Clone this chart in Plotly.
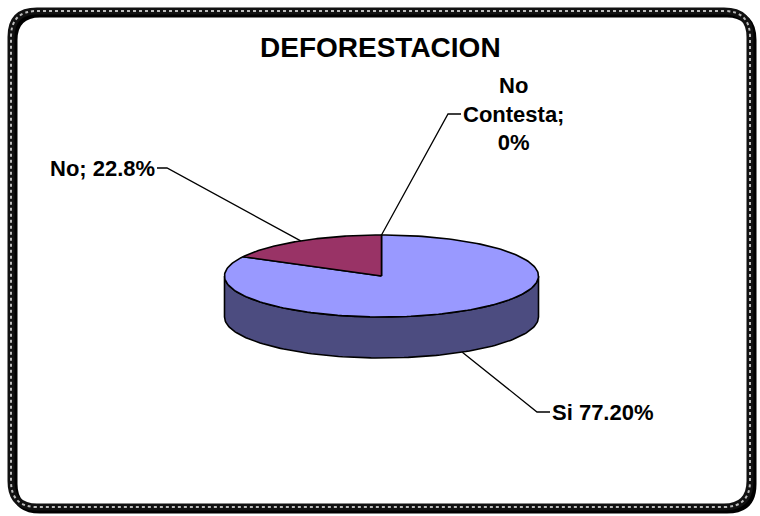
import numpy as np
import plotly.graph_objects as go

# ---- data ----
categories = ["Si", "No", "No Contesta"]
values = [77.2, 22.8, 0.0]
label_texts = ["Si 77.20%", "No; 22.8%", "No<br>Contesta;<br>0%"]
title_text = "DEFORESTACION"

# ---- style / layout constants (pixel space) ----
W, H = 760, 516
CX, CY, RX, RY, DEPTH = 381.5, 276.0, 157.0, 41.0, 41.0
top_colors = ["#9999FF", "#993366", "#FFFFCC"]
side_colors = ["#4C4C80", "#4D1A33", "#80806A"]
label_pos = [  # (elbow_x, elbow_y, text_x, text_y, xanchor)
    (537, 412, 550, 412, "left"),
    (167, 168, 157, 168, "right"),
    (448, 114, 461, 114, "left"),
]
FONT = "Liberation Sans, Arial, sans-serif"

def screen_to_param(psi_deg):
    p = np.radians(psi_deg)
    t = np.degrees(np.arctan2(RY * np.sin(p), RX * np.cos(p)))
    return t % 360

def top_pt(t):
    r = np.radians(t)
    return CX + RX * np.sin(r), CY - RY * np.cos(r)

total = sum(values)
cum = np.concatenate([[0], np.cumsum(values)]) / total * 360
bounds = []
for i in range(len(values)):
    t0 = screen_to_param(cum[i]) if cum[i] < 360 else 360.0
    t1 = screen_to_param(cum[i + 1]) if cum[i + 1] < 360 else 360.0
    if t1 < t0:
        t1 += 360
    bounds.append((t0, t1))

fig = go.Figure()

# sides (front visible part: 90..270)
for i, (t0, t1) in enumerate(bounds):
    if values[i] <= 0:
        continue
    a, b = max(t0, 90), min(t1, 270)
    if b <= a:
        continue
    ts = np.linspace(a, b, 120)
    xs, ys = top_pt(ts)
    px = np.concatenate([xs, xs[::-1], xs[:1]])
    py = np.concatenate([ys, ys[::-1] + DEPTH, ys[:1]])
    fig.add_trace(go.Scatter(x=px, y=py, mode="lines", fill="toself",
                             fillcolor=side_colors[i],
                             line=dict(color="black", width=1.6),
                             hoverinfo="skip", showlegend=False))

# top faces
for i, (t0, t1) in enumerate(bounds):
    if values[i] <= 0:
        continue
    ts = np.linspace(t0, t1, 200)
    xs, ys = top_pt(ts)
    px = np.concatenate([[CX], xs, [CX]])
    py = np.concatenate([[CY], ys, [CY]])
    fig.add_trace(go.Scatter(x=px, y=py, mode="lines", fill="toself",
                             fillcolor=top_colors[i],
                             line=dict(color="black", width=1.6),
                             hoverinfo="skip", showlegend=False,
                             name=categories[i]))

# leader lines and labels
for i, (t0, t1) in enumerate(bounds):
    tm = (t0 + t1) / 2
    ax, ay = top_pt(tm)
    if 90 <= (tm % 360) <= 270:
        ay = ay + DEPTH
    ex, ey, tx, ty, anc = label_pos[i]
    fig.add_trace(go.Scatter(x=[ax, ex, tx], y=[ay, ey, ty], mode="lines",
                             line=dict(color="black", width=1.3),
                             hoverinfo="skip", showlegend=False))
    fig.add_annotation(x=tx, y=ty, text=label_texts[i], showarrow=False,
                       xanchor=anc, yanchor="middle",
                       align="center",
                       font=dict(family=FONT, size=22, color="black", weight="bold"))

fig.add_annotation(x=380, y=47, text=title_text, showarrow=False,
                   xanchor="center", yanchor="middle",
                   font=dict(family=FONT, size=28, color="black", weight="bold"))

# frame
def rounded(x0, y0, x1, y1, r):
    return (f"M{x0+r},{y0} L{x1-r},{y0} Q{x1},{y0} {x1},{y0+r} "
            f"L{x1},{y1-r} Q{x1},{y1} {x1-r},{y1} L{x0+r},{y1} "
            f"Q{x0},{y1} {x0},{y1-r} L{x0},{y0+r} Q{x0},{y0} {x0+r},{y0} Z")

shadow = rounded(14, 14, 753, 510, 26)
frame = rounded(11, 11, 750, 507, 26)
fig.add_shape(type="path", path=shadow, xref="x", yref="y",
              line=dict(color="black", width=7))
fig.add_shape(type="path", path=frame, xref="x", yref="y",
              line=dict(color="#111111", width=7), fillcolor="rgba(0,0,0,0)")
fig.add_shape(type="path", path=frame, xref="x", yref="y",
              line=dict(color="#bbbbbb", width=2, dash="dot"))
fig.add_shape(type="path", path=rounded(15, 15, 746, 503, 22), xref="x", yref="y",
              line=dict(color="white", width=1), fillcolor="white", layer="below")

fig.update_layout(
    width=W, height=H,
    margin=dict(l=0, r=0, t=0, b=0),
    paper_bgcolor="white", plot_bgcolor="white",
    xaxis=dict(range=[0, W], visible=False, fixedrange=True),
    yaxis=dict(range=[H, 0], visible=False, fixedrange=True),
    showlegend=False,
)

fig.write_html("out.html", config={"displayModeBar": False},
               post_script="document.body.style.margin='0px';document.body.style.overflow='hidden';")
